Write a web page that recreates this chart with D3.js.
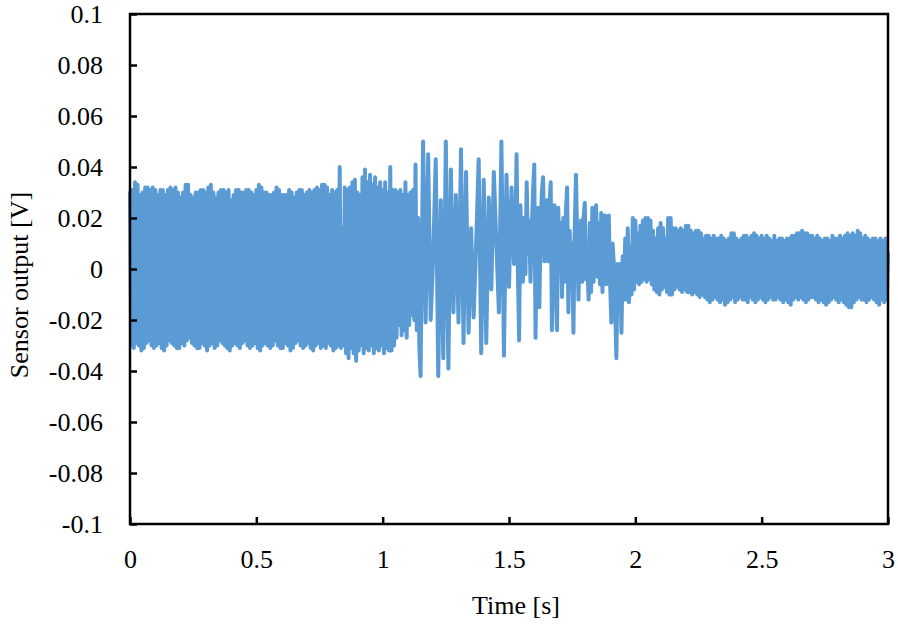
<!DOCTYPE html>
<html>
<head>
<meta charset="utf-8">
<script src="https://cdn.jsdelivr.net/npm/d3@7"></script>
<style>
  html, body { margin: 0; padding: 0; background: #fff; }
  svg { display: block; }
  text { font-family: "Liberation Serif", "Times New Roman", serif; fill: #000; }
</style>
</head>
<body>
<svg id="chart" width="898" height="624"></svg>
<script>
// ---- data ----
// Segment 1 (0 – 1.145 s): dense oscillation, peaks at t = 0.01k, troughs at t = 0.01k + 0.005
const leftPeaks = [
  0.030, 0.031, 0.034, 0.033, 0.029, 0.030, 0.032, 0.032, 0.031, 0.032,
  0.031, 0.029, 0.031, 0.031, 0.029, 0.031, 0.032, 0.031, 0.032, 0.030,
  0.028, 0.030, 0.033, 0.033, 0.029, 0.028, 0.030, 0.030, 0.031, 0.031,
  0.030, 0.032, 0.033, 0.030, 0.028, 0.030, 0.031, 0.031, 0.030, 0.031,
  0.027, 0.029, 0.031, 0.031, 0.030, 0.030, 0.031, 0.031, 0.030, 0.029,
  0.031, 0.033, 0.032, 0.030, 0.030, 0.029, 0.029, 0.030, 0.032, 0.031,
  0.029, 0.029, 0.029, 0.031, 0.030, 0.028, 0.030, 0.031, 0.031, 0.029,
  0.030, 0.031, 0.030, 0.031, 0.032, 0.031, 0.033, 0.033, 0.032, 0.029,
  0.031, 0.030, 0.031, 0.040, 0.016, 0.032, 0.031, 0.032, 0.034, 0.035,
  0.030, 0.029, 0.036, 0.039, 0.034, 0.037, 0.033, 0.036, 0.032, 0.034,
  0.031, 0.034, 0.030, 0.040, 0.031, 0.031, 0.030, 0.031, 0.029, 0.034,
  0.029, 0.030, 0.031, 0.041, 0.020
];
const leftTroughs = [
  -0.030, -0.031, -0.029, -0.030, -0.032, -0.031, -0.029, -0.028, -0.030, -0.031, -0.030,
  -0.029, -0.031, -0.032, -0.030, -0.028, -0.029, -0.030, -0.031, -0.031, -0.029, -0.030,
  -0.028, -0.027, -0.029, -0.030, -0.031, -0.031, -0.029, -0.030, -0.032, -0.030, -0.029,
  -0.031, -0.030, -0.028, -0.029, -0.030, -0.031, -0.032, -0.030, -0.029, -0.030, -0.031,
  -0.029, -0.028, -0.030, -0.031, -0.030, -0.029, -0.031, -0.032, -0.030, -0.029, -0.030,
  -0.031, -0.030, -0.028, -0.030, -0.031, -0.031, -0.029, -0.030, -0.032, -0.031, -0.029,
  -0.028, -0.030, -0.031, -0.030, -0.029, -0.031, -0.032, -0.030, -0.029, -0.031, -0.030,
  -0.031, -0.029, -0.030, -0.032, -0.031, -0.030,
  -0.031, -0.030, -0.033, -0.035, -0.031, -0.033, -0.036, -0.032, -0.030, -0.033,
  -0.031, -0.032, -0.030, -0.033, -0.031, -0.032, -0.030, -0.033, -0.031, -0.032,
  -0.032, -0.030, -0.027, -0.022, -0.026, -0.024, -0.027, -0.022, -0.018, -0.020,
  -0.024, -0.030
];
// Segment 2 (1.15 – 1.52 s, every 0.01 s): large slow swings
const midStart = 1.15, midStep = 0.01;
const midValues = [
  -0.042, 0.050, -0.021, 0.045, -0.020, 0.005, 0.043, -0.042, 0.027, -0.035,
  0.050, -0.039, 0.039, -0.017, 0.029, -0.021, 0.047, -0.029, 0.038, -0.025,
  0.016, -0.019, 0.010, 0.043, -0.033, 0.035, -0.029, 0.028, -0.008, 0.038,
  0.010, -0.017, 0.050, -0.034, 0.037, -0.007, 0.032, 0.002
];
// Segment 3 (1.525 – 2.005 s, every 0.005 s): decaying swings
const transStart = 1.525, transStep = 0.005;
const transValues = [
  0.010, 0.045, 0.000, -0.028, 0.025, 0.005, -0.005, 0.020, -0.002, 0.034,
  0.006, 0.019, -0.005, 0.015, 0.030, 0.041, -0.027, 0.010, 0.024, -0.015,
  0.015, 0.030, 0.036, 0.003, 0.020, 0.027, 0.003, 0.025, 0.034, -0.024,
  0.010, 0.025, -0.005, -0.024, 0.024, 0.000, 0.018, -0.011, 0.020, -0.005,
  0.022, 0.032, -0.017, 0.015, 0.004, 0.010, -0.025, 0.015, 0.037, 0.010,
  -0.012, 0.015, 0.019, -0.005, 0.020, 0.026, -0.004, 0.002, -0.012, 0.018,
  -0.009, 0.024, -0.005, 0.020, 0.025, -0.003, 0.018, -0.006, 0.022, -0.009,
  0.017, 0.021, -0.006, 0.018, 0.021, -0.005, -0.021, 0.010, 0.002, -0.015,
  -0.035, 0.002, -0.010, 0.002, -0.025, 0.005, -0.012, 0.012, -0.012, 0.016,
  -0.013, 0.009, -0.010, 0.020, -0.008, 0.019, -0.005
];
// Segment 4 (2.01 – 3.00 s): dense small oscillation, peaks at t = 2.01 + 0.01k, troughs 0.005 s later
const rightStart = 2.01;
const rightPeaks = [
  0.014, 0.017, 0.019, 0.020, 0.020, 0.019, 0.015, 0.012, 0.016, 0.018,
  0.016, 0.012, 0.020, 0.020, 0.016, 0.016, 0.015, 0.016, 0.015, 0.017,
  0.017, 0.015, 0.014, 0.015, 0.015, 0.014, 0.012, 0.013, 0.013, 0.012,
  0.013, 0.012, 0.012, 0.013, 0.012, 0.011, 0.012, 0.014, 0.014, 0.012,
  0.011, 0.012, 0.013, 0.013, 0.012, 0.013, 0.014, 0.013, 0.012, 0.013,
  0.012, 0.013, 0.012, 0.011, 0.013, 0.011, 0.012, 0.012, 0.011, 0.012,
  0.012, 0.013, 0.013, 0.014, 0.014, 0.015, 0.014, 0.014, 0.013, 0.013,
  0.012, 0.013, 0.012, 0.011, 0.012, 0.012, 0.011, 0.013, 0.012, 0.012,
  0.013, 0.012, 0.013, 0.014, 0.013, 0.014, 0.013, 0.015, 0.014, 0.012,
  0.013, 0.012, 0.011, 0.012, 0.012, 0.011, 0.012, 0.011, 0.012, 0.006
];
const rightTroughs = [
  -0.006, -0.005, -0.004, -0.005, -0.004, -0.006, -0.008, -0.009, -0.010, -0.008,
  -0.007, -0.009, -0.010, -0.010, -0.008, -0.007, -0.008, -0.009, -0.008, -0.009,
  -0.009, -0.010, -0.009, -0.010, -0.011, -0.010, -0.011, -0.012, -0.013, -0.012,
  -0.011, -0.012, -0.013, -0.012, -0.014, -0.013, -0.012, -0.011, -0.013, -0.012,
  -0.011, -0.012, -0.012, -0.013, -0.011, -0.012, -0.013, -0.012, -0.011, -0.012,
  -0.013, -0.012, -0.011, -0.012, -0.012, -0.011, -0.012, -0.013, -0.012, -0.013,
  -0.014, -0.012, -0.011, -0.012, -0.011, -0.012, -0.013, -0.012, -0.011, -0.011,
  -0.012, -0.013, -0.012, -0.013, -0.014, -0.013, -0.012, -0.011, -0.012, -0.013,
  -0.012, -0.013, -0.014, -0.015, -0.015, -0.013, -0.012, -0.011, -0.012, -0.012,
  -0.013, -0.012, -0.011, -0.012, -0.013, -0.014, -0.012, -0.013, -0.012
];
const pairStep = 0.01;
const xTicks = [0, 0.5, 1, 1.5, 2, 2.5, 3];
const xTickLabels = ["0", "0.5", "1", "1.5", "2", "2.5", "3"];
const yTicks = [-0.1, -0.08, -0.06, -0.04, -0.02, 0, 0.02, 0.04, 0.06, 0.08, 0.1];
const yTickLabels = ["-0.1", "-0.08", "-0.06", "-0.04", "-0.02", "0", "0.02", "0.04", "0.06", "0.08", "0.1"];
const xTitle = "Time [s]";
const yTitle = "Sensor output [V]";

// ---- build the time series from the arrays ----
function interleave(start, peaks, troughs) {
  const out = [];
  peaks.forEach((p, k) => {
    out.push({ t: start + k * pairStep, v: p });
    if (k < troughs.length) out.push({ t: start + k * pairStep + pairStep / 2, v: troughs[k] });
  });
  return out;
}
const points = [].concat(
  interleave(0, leftPeaks, leftTroughs),
  midValues.map((v, i) => ({ t: midStart + i * midStep, v })),
  transValues.map((v, i) => ({ t: transStart + i * transStep, v })),
  interleave(rightStart, rightPeaks, rightTroughs)
);

// ---- layout ----
const plot = { left: 130, right: 888, top: 14, bottom: 524 };
const svg = d3.select("#chart");
const x = d3.scaleLinear().domain([0, 3]).range([plot.left, plot.right]);
const y = d3.scaleLinear().domain([-0.1, 0.1]).range([plot.bottom, plot.top]);

svg.append("path")
  .datum(points)
  .attr("fill", "none")
  .attr("stroke", "#5B9BD5")
  .attr("stroke-width", 4)
  .attr("stroke-linejoin", "round")
  .attr("stroke-linecap", "round")
  .attr("d", d3.line().x(d => x(d.t)).y(d => y(d.v)));

const fontSize = 26;
const xAxis = d3.axisBottom(x)
  .tickValues(xTicks)
  .tickFormat((d, i) => xTickLabels[i])
  .tickSizeInner(-7).tickSizeOuter(0).tickPadding(26);
const yAxis = d3.axisLeft(y)
  .tickValues(yTicks)
  .tickFormat((d, i) => yTickLabels[i])
  .tickSizeInner(-7).tickSizeOuter(0).tickPadding(27);

const gx = svg.append("g").attr("transform", `translate(0,${plot.bottom})`).call(xAxis);
const gy = svg.append("g").attr("transform", `translate(${plot.left},0)`).call(yAxis);
[gx, gy].forEach(g => {
  g.select(".domain").remove();
  g.selectAll(".tick line").attr("stroke", "#000").attr("stroke-width", 2.5);
  g.selectAll(".tick text")
    .style("font-family", '"Liberation Serif", "Times New Roman", serif')
    .style("font-size", fontSize + "px")
    .attr("fill", "#000");
});

svg.append("rect")
  .attr("x", plot.left).attr("y", plot.top)
  .attr("width", plot.right - plot.left).attr("height", plot.bottom - plot.top)
  .attr("fill", "none").attr("stroke", "#000").attr("stroke-width", 2.5);

svg.append("text")
  .attr("x", 516).attr("y", 614)
  .attr("text-anchor", "middle")
  .style("font-size", fontSize + "px")
  .text(xTitle);
svg.append("text")
  .attr("transform", "translate(28,285) rotate(-90)")
  .attr("text-anchor", "middle")
  .style("font-size", fontSize + "px")
  .text(yTitle);
</script>
</body>
</html>
